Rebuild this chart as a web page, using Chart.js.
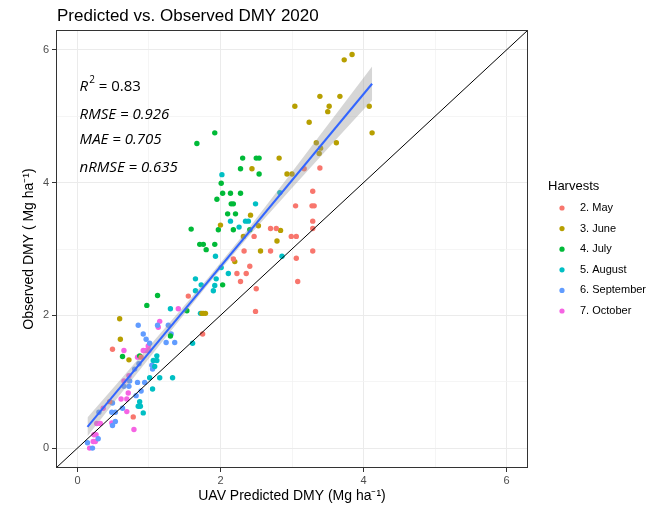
<!DOCTYPE html>
<html>
<head>
<meta charset="utf-8">
<script src="https://cdn.jsdelivr.net/npm/chart.js@4.4.1/dist/chart.umd.min.js"></script>
<style>
  html, body { margin: 0; padding: 0; background: #fff; }
  #wrap { width: 662px; height: 506px; }
</style>
</head>
<body>
<div id="wrap"><canvas id="dmyChart" width="662" height="506"></canvas></div>
<script>
    'use strict';

    // Harvest groups and their colours (ggplot hue palette)
    const harvests = ['2. May', '3. June', '4. July', '5. August', '6. September', '7. October'];
    const colors = ['#F8766D', '#B79F00', '#00BA38', '#00BFC4', '#619CFF', '#F564E3'];

    // Observations per harvest: predicted (x) and observed (y), Mg ha-1
    const mayX = [3.17, 3.39, 3.29, 3.05, 3.28, 3.31, 3.29, 3.29, 2.70, 2.78, 2.47, 2.99, 3.06, 2.70, 3.29, 3.06, 2.41, 3.08, 2.50, 2.33, 2.18, 2.23, 2.36, 2.28, 1.55, 2.49, 1.75, 0.49, 0.89, 0.45, 0.78];
    const mayY = [4.21, 4.22, 3.87, 3.65, 3.65, 3.65, 3.42, 3.31, 3.31, 3.31, 3.19, 3.19, 3.19, 2.97, 2.97, 2.86, 2.74, 2.51, 2.40, 2.97, 2.85, 2.63, 2.63, 2.51, 2.29, 2.06, 1.72, 1.49, 1.37, 0.70, 0.47];

    const juneX = [3.84, 3.73, 3.39, 3.67, 3.04, 3.52, 3.50, 4.08, 3.24, 4.12, 3.34, 3.62, 3.40, 3.38, 2.82, 2.44, 2.93, 3.00, 2.42, 2.84, 2.53, 2.79, 2.56, 2.00, 2.32, 2.20, 1.74, 1.76, 1.79, 0.59, 0.60, 0.72];
    const juneY = [5.93, 5.85, 5.30, 5.30, 5.15, 5.15, 5.07, 5.15, 4.91, 4.75, 4.60, 4.60, 4.52, 4.44, 4.37, 4.21, 4.13, 4.13, 3.51, 3.28, 3.35, 3.12, 2.97, 3.36, 3.19, 2.81, 2.03, 2.03, 2.03, 1.95, 1.64, 1.33];

    const julyX = [1.92, 1.67, 2.31, 2.50, 2.54, 2.28, 2.54, 2.01, 2.03, 2.14, 2.28, 1.95, 2.15, 2.18, 2.10, 2.21, 2.18, 1.97, 2.41, 1.59, 1.71, 1.76, 1.92, 1.80, 2.03, 1.12, 0.97, 1.53, 1.30, 0.63, 0.87];
    const julyY = [4.75, 4.59, 4.37, 4.37, 4.37, 4.21, 4.13, 3.99, 3.84, 3.84, 3.84, 3.75, 3.68, 3.68, 3.53, 3.53, 3.29, 3.29, 3.29, 3.30, 3.07, 3.07, 3.07, 2.99, 2.46, 2.30, 2.15, 2.07, 1.69, 1.38, 1.39];

    const augX = [2.02, 2.83, 2.49, 2.14, 2.35, 2.39, 2.26, 1.93, 2.86, 2.01, 2.11, 1.94, 1.65, 1.73, 1.92, 1.65, 1.90, 1.30, 1.72, 1.61, 1.11, 1.06, 1.11, 1.08, 1.01, 1.15, 1.33, 1.05, 0.87, 0.85, 0.88, 0.92];
    const augY = [4.12, 3.85, 3.68, 3.42, 3.42, 3.42, 3.33, 2.89, 2.89, 2.72, 2.63, 2.55, 2.55, 2.46, 2.45, 2.37, 2.37, 2.10, 2.03, 1.58, 1.39, 1.32, 1.32, 1.23, 1.06, 1.06, 1.06, 0.89, 0.70, 0.63, 0.63, 0.53];

    const sepX = [0.85, 1.12, 1.27, 0.92, 1.31, 0.96, 1.01, 1.24, 1.36, 1.04, 1.05, 0.80, 0.86, 0.84, 0.94, 0.73, 0.65, 0.72, 0.89, 0.82, 0.49, 0.63, 0.48, 0.53, 0.30, 0.53, 0.49, 0.29, 0.14, 0.21];
    const sepY = [1.85, 1.85, 1.85, 1.72, 1.72, 1.64, 1.58, 1.59, 1.59, 1.25, 1.19, 1.19, 1.27, 0.99, 0.99, 1.01, 0.93, 0.93, 0.86, 0.79, 0.68, 0.60, 0.54, 0.54, 0.54, 0.40, 0.34, 0.14, 0.08, 0.00];

    const octX = [1.41, 1.15, 1.13, 0.99, 0.65, 0.92, 0.96, 1.00, 0.84, 0.72, 0.65, 0.71, 0.61, 0.69, 0.36, 0.69, 0.27, 0.32, 0.48, 0.79, 0.23, 0.26, 0.22, 0.25, 0.17];
    const octY = [2.10, 1.91, 1.82, 1.54, 1.47, 1.47, 1.47, 1.47, 1.37, 1.09, 1.01, 0.83, 0.74, 0.74, 0.60, 0.55, 0.37, 0.37, 0.38, 0.28, 0.20, 0.20, 0.10, 0.10, 0.00];

    // Linear fit (endpoints) and its confidence band
    const fitX = [0.14, 4.12];
    const fitY = [0.32, 5.49];
    const bandX = [0.14, 0.6, 1.2, 1.8, 2.4, 3.0, 3.6, 4.12];
    const bandHi = [0.46, 1.03, 1.78, 2.53, 3.32, 4.16, 5.01, 5.75];
    const bandLo = [0.18, 0.81, 1.62, 2.43, 3.20, 3.92, 4.63, 5.24];

    // 1:1 line and axis ticks
    const oneToOne = [-0.3, 6.3];
    const gridVals = [0, 1, 2, 3, 4, 5, 6];
    const tickLabels = [0, 2, 4, 6];

    // Goodness-of-fit text
    const stats = [
        { label: 'R', sup: '2', value: ' = 0.83' },
        { label: 'RMSE = 0.926' },
        { label: 'MAE = 0.705' },
        { label: 'nRMSE = 0.635' }
    ];

    const groupsX = [mayX, juneX, julyX, augX, sepX, octX];
    const groupsY = [mayY, juneY, julyY, augY, sepY, octY];

    const toPoints = (xs, ys) => xs.map((x, i) => ({ x: x, y: ys[i] }));

    const pointSets = harvests.map((name, i) => ({
        type: 'scatter',
        label: name,
        data: toPoints(groupsX[i], groupsY[i]),
        backgroundColor: colors[i],
        borderColor: colors[i],
        borderWidth: 0,
        pointRadius: 2.7,
        order: 4
    }));

    const isMajor = v => tickLabels.includes(v);

    const axisCommon = {
        type: 'linear',
        min: -0.3,
        max: 6.3,
        afterBuildTicks: function(scale) {
            scale.ticks = gridVals.map(v => ({ value: v }));
        },
        ticks: {
            autoSkip: false,
            maxRotation: 0,
            color: '#4D4D4D',
            font: { size: 11 },
            callback: v => isMajor(v) ? String(v) : ''
        },
        grid: {
            color: ctx => isMajor(ctx.tick.value) ? '#EBEBEB' : '#F2F2F2',
            lineWidth: ctx => isMajor(ctx.tick.value) ? 1 : 0.8,
            tickColor: ctx => isMajor(ctx.tick.value) ? '#333333' : 'rgba(0,0,0,0)',
            tickLength: 4
        },
        border: { display: false }
    };

    // Panel frame, title, stats text and the Harvests legend
    const decorations = {
        id: 'decorations',
        afterDatasetsDraw(chart) {
            const ctx = chart.ctx;
            const a = chart.chartArea;
            const xs = chart.scales.x;
            const ys = chart.scales.y;

            ctx.save();
            ctx.strokeStyle = '#333333';
            ctx.lineWidth = 1;
            ctx.strokeRect(a.left + 0.5, a.top + 0.5, a.right - a.left - 1, a.bottom - a.top - 1);

            // stats block
            ctx.fillStyle = '#000';
            ctx.textBaseline = 'middle';
            ctx.textAlign = 'left';
            const sx = xs.getPixelForValue(0.03);
            const rows = [5.45, 5.03, 4.64, 4.23];
            stats.forEach((s, i) => {
                const py = ys.getPixelForValue(rows[i]);
                if (s.sup) {
                    ctx.font = 'italic 15px "Open Sans"';
                    ctx.fillText(s.label, sx, py);
                    let w = ctx.measureText(s.label).width;
                    ctx.font = '10px "Open Sans"';
                    ctx.fillText(s.sup, sx + w + 1, py - 6);
                    w += ctx.measureText(s.sup).width + 1;
                    ctx.font = '15px "Open Sans"';
                    ctx.fillText(s.value, sx + w, py);
                } else {
                    ctx.font = 'italic 15px "Open Sans"';
                    ctx.fillText(s.label, sx, py);
                }
            });

            // title
            ctx.font = '17px "Liberation Sans", Arial, sans-serif';
            ctx.fillText('Predicted vs. Observed DMY 2020', 57, 16);

            // legend
            ctx.font = '13px "Liberation Sans", Arial, sans-serif';
            ctx.fillText('Harvests', 548, 186);
            ctx.font = '11px "Liberation Sans", Arial, sans-serif';
            harvests.forEach((name, i) => {
                const ly = 208 + i * 20.6;
                ctx.fillStyle = colors[i];
                ctx.beginPath();
                ctx.arc(562, ly, 2.6, 0, Math.PI * 2);
                ctx.fill();
                ctx.fillStyle = '#000';
                ctx.fillText(name, 580, ly);
            });
            ctx.restore();
        }
    };

    Chart.defaults.font.family = '"Liberation Sans", Arial, sans-serif';

    new Chart(document.getElementById('dmyChart'), {
        type: 'scatter',
        data: {
            datasets: pointSets.concat([
                {
                    type: 'line',
                    label: 'band-hi',
                    data: toPoints(bandX, bandHi),
                    borderWidth: 0,
                    borderColor: 'rgba(0,0,0,0)',
                    backgroundColor: 'rgba(153,153,153,0.4)',
                    pointRadius: 0,
                    fill: '+1',
                    order: 3
                },
                {
                    type: 'line',
                    label: 'band-lo',
                    data: toPoints(bandX, bandLo),
                    borderWidth: 0,
                    borderColor: 'rgba(0,0,0,0)',
                    pointRadius: 0,
                    fill: false,
                    order: 3
                },
                {
                    type: 'line',
                    label: 'fit',
                    data: toPoints(fitX, fitY),
                    borderColor: '#3366FF',
                    borderWidth: 2,
                    pointRadius: 0,
                    fill: false,
                    order: 2
                },
                {
                    type: 'line',
                    label: '1:1',
                    data: toPoints(oneToOne, oneToOne),
                    borderColor: '#000000',
                    borderWidth: 1,
                    pointRadius: 0,
                    fill: false,
                    order: 1
                }
            ])
        },
        options: {
            responsive: false,
            animation: false,
            layout: {
                padding: { top: 30, right: 134, left: 0, bottom: 0 }
            },
            plugins: {
                legend: { display: false },
                tooltip: { enabled: false },
                title: { display: false }
            },
            scales: {
                x: Object.assign({}, axisCommon, {
                    position: 'bottom',
                    afterFit: function(scale) { scale.height = 38; },
                    ticks: Object.assign({}, axisCommon.ticks, { padding: 2 }),
                    title: {
                        display: true,
                        text: 'UAV Predicted DMY (Mg ha\u207B\u00B9)',
                        color: '#000',
                        font: { size: 14 },
                        padding: { top: 0, bottom: 1 }
                    }
                }),
                y: Object.assign({}, axisCommon, {
                    position: 'left',
                    afterFit: function(scale) { scale.width = 56; },
                    ticks: Object.assign({}, axisCommon.ticks, { padding: 3 }),
                    title: {
                        display: true,
                        text: 'Observed DMY ( Mg ha\u207B\u00B9)',
                        color: '#000',
                        font: { size: 14 },
                        padding: { top: 21, bottom: 0 }
                    }
                })
            }
        },
        plugins: [decorations]
    });
</script>
</body>
</html>
